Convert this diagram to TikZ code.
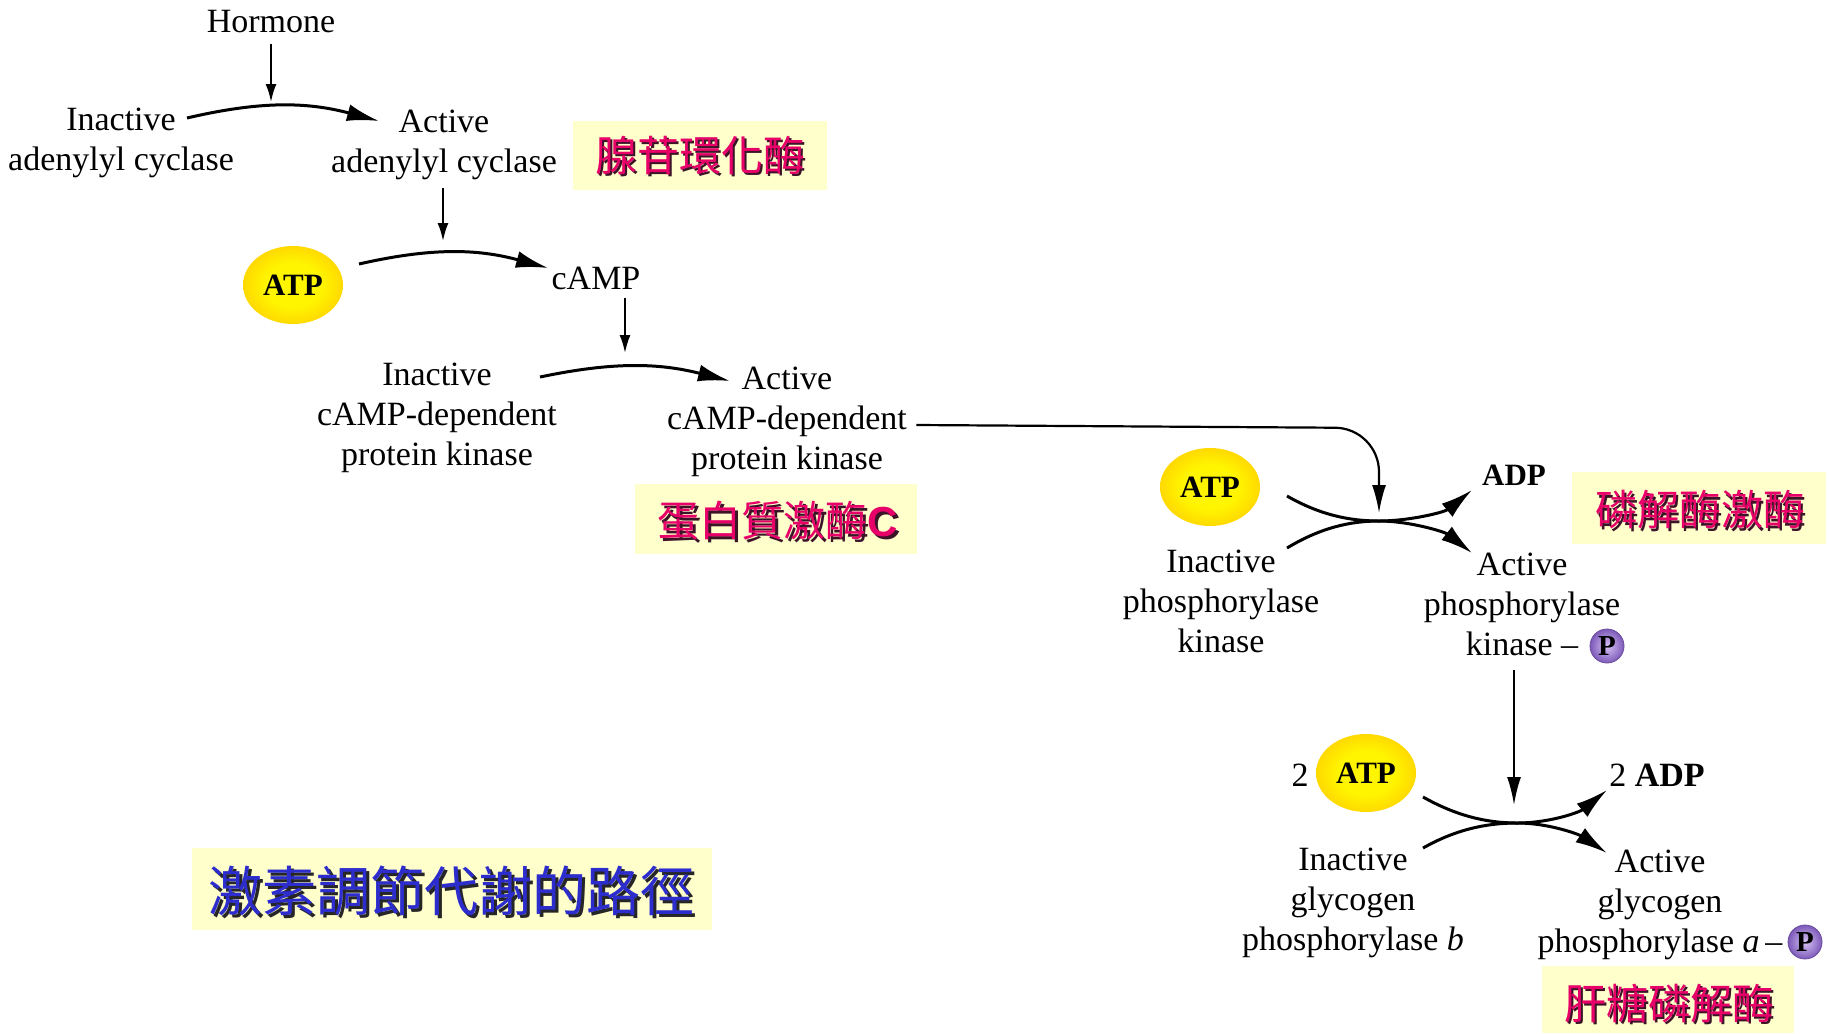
\documentclass[tikz,border=0pt]{standalone}
\usepackage{fontspec}
\setmainfont{Liberation Serif}
\newfontfamily\cjk{Noto Sans CJK TC}
\newfontfamily\lsans{Liberation Sans}
\usetikzlibrary{arrows.meta,shapes.geometric}
\definecolor{boxyellow}{RGB}{255,255,204}
\definecolor{magtext}{RGB}{232,0,105}
\definecolor{magshadow}{RGB}{60,20,40}
\definecolor{bluetext}{RGB}{45,45,205}
\definecolor{glowA}{RGB}{255,245,0}
\definecolor{glowB}{RGB}{255,212,0}
\definecolor{glowC}{RGB}{255,228,80}
\definecolor{glowD}{RGB}{255,246,190}
\definecolor{pA}{RGB}{215,195,245}
\definecolor{pB}{RGB}{125,90,185}
\pgfdeclareradialshading{atpglow}{\pgfpoint{0bp}{0bp}}{color(0bp)=(glowA); color(14bp)=(glowA); color(27bp)=(glowB); color(35bp)=(glowC); color(43bp)=(glowD); color(50bp)=(white)}
\tikzset{
 lbl/.style={align=center, inner sep=0pt, font=\fontsize{17}{20}\selectfont},
 chem/.style={inner sep=0pt, font=\fontsize{15.5}{19}\selectfont\bfseries},
 atp/.style={ellipse, shade, shading=atpglow, minimum width=50pt, minimum height=39pt, inner sep=0pt, font=\fontsize{15.5}{19}\selectfont\bfseries},
 pball/.style={circle, shade, inner color=pA, outer color=pB, draw=pB!85!black, line width=0.4pt, minimum size=17pt, inner sep=0pt, font=\fontsize{14.5}{14}\selectfont\bfseries},
 ybox/.style={fill=boxyellow, inner sep=0pt},
 cjkm/.style={inner sep=0pt, text=magtext, font=\cjk\fontsize{21}{21}\selectfont},
 cjkmsh/.style={cjkm, text=magshadow},
 cjkb/.style={inner sep=0pt, text=bluetext, font=\cjk\fontsize{27}{27}\selectfont},
 cjkbsh/.style={cjkb, text=black!85},
 thinarrow/.style={line width=1pt, -{Latex[length=9pt,width=5.5pt]}},
 curvearrow/.style={line width=1.5pt, -{Latex[length=16pt,width=8.5pt]}},
 midarrow/.style={line width=1.1pt, -{Latex[length=14pt,width=7pt]}},
}
\begin{document}
\begin{tikzpicture}[x=0.5pt,y=-0.5pt]
\useasboundingbox (0,0) rectangle (1829,1033);
\fill[white] (0,0) rectangle (1829,1033);

% yellow boxes
\node[ybox, minimum width=127pt, minimum height=34.5pt] (box1) at (700,155.5) {};
\node[ybox, minimum width=141pt, minimum height=35pt] (box2) at (776,519) {};
\node[ybox, minimum width=127pt, minimum height=36pt] (box3) at (1699,508) {};
\node[ybox, minimum width=126pt, minimum height=33.5pt] (box4) at (1668,999.5) {};
\node[ybox, minimum width=260pt, minimum height=41pt] (box5) at (452,889) {};

\node[cjkmsh] (t1s) at ([shift={(1.2pt,-1.2pt)}]box1.center) {腺苷環化酶};
\node[cjkm] (t1) at (box1.center) {腺苷環化酶};
\node[cjkmsh] (t2s) at ([shift={(2.2pt,-2.2pt)}]box2.center) {蛋白質激酶{\lsans\bfseries C}};
\node[cjkm] (t2) at ([shift={(1pt,-1pt)}]box2.center) {蛋白質激酶{\lsans\bfseries C}};
\node[cjkmsh] (t3s) at ([shift={(1.7pt,-2.2pt)}]box3.center) {磷解酶激酶};
\node[cjkm] (t3) at ([shift={(0.5pt,-1pt)}]box3.center) {磷解酶激酶};
\node[cjkmsh] (t4s) at ([shift={(1.7pt,-3.2pt)}]box4.center) {肝糖磷解酶};
\node[cjkm] (t4) at ([shift={(0.5pt,-2pt)}]box4.center) {肝糖磷解酶};
\node[cjkbsh] (t5s) at ([shift={(1pt,-2.2pt)}]box5.center) {激素調節代謝的路徑};
\node[cjkb] (t5) at ([shift={(-0.5pt,-1pt)}]box5.center) {激素調節代謝的路徑};

% text nodes
\node[lbl] (hormone) at (271,22) {Hormone};
\node[lbl] (inac1) at (121,143) {Inactive\\adenylyl cyclase};
\node[lbl] (act1) at (444,145) {Active\\adenylyl cyclase};
\node[atp] (atp1) at (293,285) {ATP};
\node[lbl] (camp) at (596,278) {cAMP};
\node[lbl] (inac2) at (437,418) {Inactive\\cAMP-dependent\\protein kinase};
\node[lbl] (act2) at (787,422) {Active\\cAMP-dependent\\protein kinase};
\node[atp] (atp2) at (1210,487) {ATP};
\node[chem] (adp1) at (1514,475) {ADP};
\node[lbl] (inac3) at (1221,601) {Inactive\\phosphorylase\\kinase};
\node[lbl] (act3) at (1522,604) {Active\\phosphorylase\\kinase \textendash};
\node[pball] (p1) at (1607,646) {P};
\node[lbl] (two1) at (1300,775) {2};
\node[atp] (atp3) at (1366,773) {ATP};
\node[lbl] (adp2) at (1657,775) {2 \textbf{ADP}};
\node[lbl] (inac4) at (1353,903) {Inactive\\glycogen\\phosphorylase \textit{b}};
\node[lbl] (act4) at (1660,905) {Active\\glycogen\\phosphorylase \textit{a}\,\textendash};
\node[pball] (p2) at (1805,942) {P};

% coordinates
\coordinate (h1) at (271,102);
\coordinate (c1s) at (187,118);
\coordinate (c1e) at (379,121);
\coordinate (v2e) at (443,241);
\coordinate (c2s) at (359,264);
\coordinate (c2e) at (548,268);
\coordinate (v3e) at (625,353);
\coordinate (c3s) at (540,377);
\coordinate (c3e) at (730,381);
\coordinate (k3) at (1379,513);
\coordinate (m1) at (1379,521);
\coordinate (x1a) at (1287,496);
\coordinate (x1b) at (1472,490);
\coordinate (x1c) at (1287,548);
\coordinate (x1d) at (1472,553);
\coordinate (k4) at (1514,805);
\coordinate (m2) at (1517,823);
\coordinate (x2a) at (1423,797);
\coordinate (x2b) at (1607,790);
\coordinate (x2c) at (1423,848);
\coordinate (x2d) at (1607,853);

% connectors
\draw[thinarrow, shorten <=5pt] (h1 |- hormone.south) -- (h1);
\draw[curvearrow] (c1s) to[bend left=14] (c1e);
\draw[thinarrow, shorten <=4pt] (v2e |- act1.south) -- (v2e);
\draw[curvearrow] (c2s) to[bend left=14] (c2e);
\draw[thinarrow, shorten <=4pt] (v3e |- camp.south) -- (v3e);
\draw[curvearrow] (c3s) to[bend left=13] (c3e);
\draw[midarrow, rounded corners=22pt] ([xshift=4.5pt,yshift=-1.5pt]act2.east) -- (1379,428) -- (k3);
\draw[curvearrow] (x1a) .. controls (1320,515) and (1350,521) .. (m1) .. controls (1410,521) and (1445,512) .. (x1b);
\draw[curvearrow] (x1c) .. controls (1320,528) and (1350,521) .. (m1) .. controls (1410,521) and (1445,532) .. (x1d);
\draw[midarrow, shorten <=7pt] (k4 |- act3.south) -- (k4);
\draw[curvearrow] (x2a) .. controls (1455,815) and (1485,823) .. (m2) .. controls (1550,823) and (1580,812) .. (x2b);
\draw[curvearrow] (x2c) .. controls (1455,830) and (1485,823) .. (m2) .. controls (1550,823) and (1580,835) .. (x2d);
\end{tikzpicture}
\end{document}
